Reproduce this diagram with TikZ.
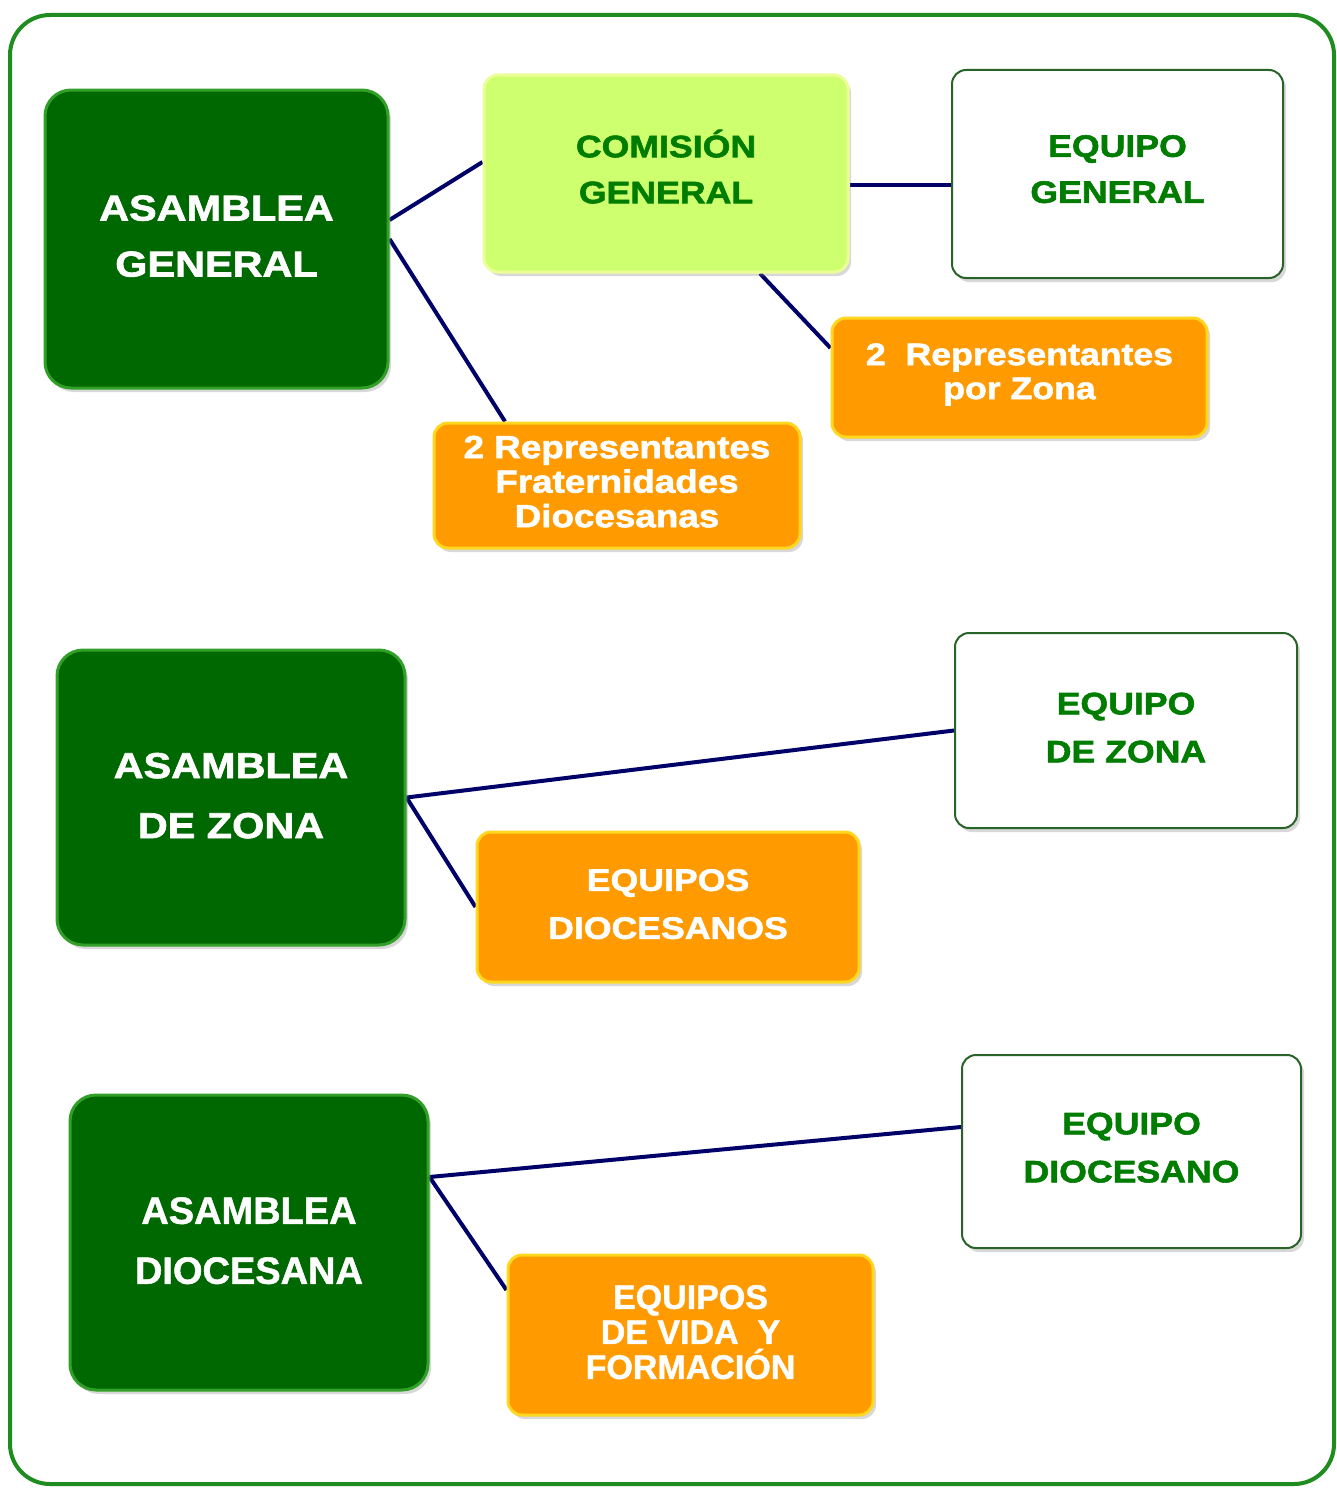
\documentclass[tikz,border=0pt]{standalone}
\usepackage{fontspec}
\setmainfont{Liberation Sans}
\newfontfamily\wfont[FakeStretch=1.15,FakeBold=1.8]{Liberation Sans}
\newfontfamily\nfont[FakeStretch=1.0,FakeBold=1.2]{Liberation Sans}
\usetikzlibrary{shadows,backgrounds}
\definecolor{dkgreen}{RGB}{0,104,0}
\definecolor{dkrim}{RGB}{50,160,40}
\definecolor{ltgreen}{RGB}{206,255,110}
\definecolor{ltrim}{RGB}{236,255,150}
\definecolor{txtgreen}{RGB}{0,125,0}
\definecolor{wbord}{RGB}{40,100,40}
\definecolor{orng}{RGB}{255,155,0}
\definecolor{orrim}{RGB}{255,215,30}
\definecolor{navy}{RGB}{0,0,105}
\definecolor{frame}{RGB}{30,140,30}
\tikzset{
  box/.style={rounded corners=14pt, line width=3pt, inner sep=0pt, align=center,
    drop shadow={shadow xshift=3pt, shadow yshift=-4pt, opacity=0.3}},
  darkbox/.style={box, rounded corners=26pt, fill=dkgreen, draw=dkrim, text=white},
  lightbox/.style={box, fill=ltgreen, draw=ltrim, text=txtgreen},
  whitebox/.style={box, fill=white, draw=wbord, line width=2pt, text=txtgreen},
  orangebox/.style={box, fill=orng, draw=orrim, text=white},
  conn/.style={draw=navy, line width=4pt},
}
\begin{document}
\begin{tikzpicture}[x=1pt,y=-1pt]
\useasboundingbox (0,0) rectangle (1337,1488);
\begin{scope}[on background layer]
\fill[white] (0,0) rectangle (1337,1488);
\draw[frame, line width=4pt, rounded corners=40pt] (10,15) rectangle (1334,1484);
\end{scope}

% Nodes
\node[darkbox, minimum width=343pt, minimum height=298pt, text depth=6pt,
  font=\wfont\bfseries\fontsize{36}{56}\selectfont] (AG) at (216.5,239) {ASAMBLEA\\GENERAL};
\node[lightbox, minimum width=364pt, minimum height=197pt, text depth=14pt,
  font=\wfont\bfseries\fontsize{31}{46}\selectfont] (CG) at (666,173.5) {COMISIÓN\\GENERAL};
\node[whitebox, minimum width=331pt, minimum height=208pt, text depth=10pt,
  font=\wfont\bfseries\fontsize{31}{46}\selectfont] (EG) at (1117.5,174) {EQUIPO\\GENERAL};
\node[orangebox, minimum width=375pt, minimum height=119pt, text depth=12.5pt,
  font=\wfont\bfseries\fontsize{31}{34}\selectfont] (RZ) at (1019.5,377.5) {2\ \ Representantes\\por Zona};
\node[orangebox, minimum width=366pt, minimum height=125pt, text depth=8pt,
  font=\wfont\bfseries\fontsize{32}{34.5}\selectfont] (RF) at (617,485.5) {2 Representantes\\Fraternidades\\Diocesanas};

\node[darkbox, minimum width=348pt, minimum height=295pt, text depth=4pt,
  font=\wfont\bfseries\fontsize{36}{60}\selectfont] (AZ) at (231,797.5) {ASAMBLEA\\DE ZONA};
\node[whitebox, minimum width=342pt, minimum height=195pt, text depth=6pt,
  font=\wfont\bfseries\fontsize{31}{48}\selectfont] (EZ) at (1126,730.5) {EQUIPO\\DE ZONA};
\node[orangebox, minimum width=382pt, minimum height=150pt, text depth=6pt,
  font=\wfont\bfseries\fontsize{31}{48}\selectfont] (ED) at (668,907) {EQUIPOS\\DIOCESANOS};

\node[darkbox, minimum width=358pt, minimum height=295pt, text depth=4pt,
  font=\nfont\bfseries\fontsize{38}{60}\selectfont] (AD) at (249,1242.5) {ASAMBLEA\\DIOCESANA};
\node[whitebox, minimum width=339pt, minimum height=193pt, text depth=8pt,
  font=\wfont\bfseries\fontsize{31}{48}\selectfont] (EDi) at (1131.5,1151.5) {EQUIPO\\DIOCESANO};
\node[orangebox, minimum width=365pt, minimum height=160pt, text depth=6pt,
  font=\nfont\bfseries\fontsize{34}{35}\selectfont] (EVF) at (690.5,1335) {EQUIPOS\\DE VIDA\ \ Y\\FORMACIÓN};

% Connectors
\begin{scope}[on background layer]
\draw[conn] ([yshift=19pt]AG.east) -- ([yshift=11.5pt]CG.west);
\draw[conn] (AG.east) -- ([xshift=-112pt]RF.north);
\draw[conn] ([xshift=94pt]CG.south) -- ([yshift=29.5pt]RZ.west);
\draw[conn] ([yshift=-11.5pt]CG.east) -- ([yshift=-11pt]EG.west);
\draw[conn] (AZ.east) -- (EZ.west);
\draw[conn] (AZ.east) -- (ED.west);
\draw[conn] ([yshift=65.5pt]AD.east) -- ([yshift=24.5pt]EDi.west);
\draw[conn] ([yshift=65.5pt]AD.east) -- ([yshift=45pt]EVF.west);
\end{scope}
\end{tikzpicture}
\end{document}
